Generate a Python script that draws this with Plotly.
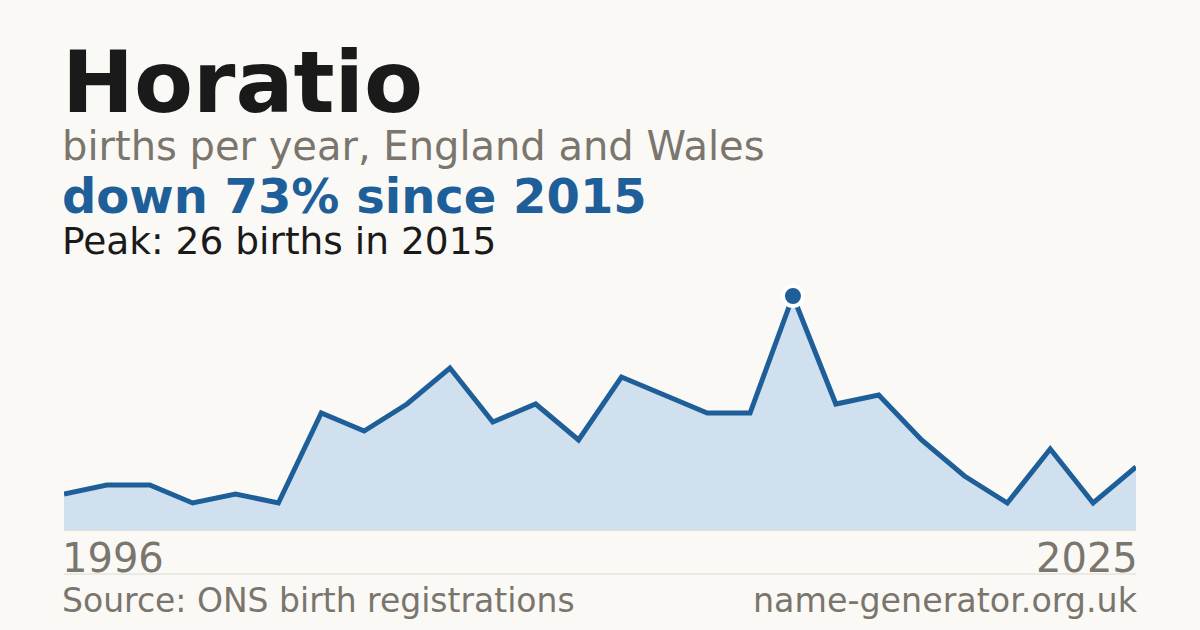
import plotly.graph_objects as go

# births per year (years with fewer than 3 births are not published)
years = [1996, 1997, 1998, 2000, 2001, 2002, 2003, 2005, 2006, 2007, 2008, 2009, 2010,
         2011, 2012, 2013, 2014, 2015, 2016, 2017, 2018, 2020, 2021, 2023, 2024, 2025]
births = [4, 5, 5, 3, 4, 3, 13, 11, 14, 18, 12, 14, 10,
          17, 15, 13, 13, 26, 14, 15, 10, 6, 3, 9, 3, 7]

name = "Horatio"
subtitle = "births per year, England and Wales"
source = "Source: ONS birth registrations"
site = "name-generator.org.uk"

BG = "#faf9f5"
BLUE = "#1f5f99"
GREY = "#7a756d"
DARK = "#1a1a1a"
FONT = "DejaVu Sans"

W, H = 1200, 630

peak = max(births)
peak_i = births.index(peak)
peak_year = years[peak_i]
change = round((births[-1] - peak) / peak * 100)
headline = f"down {abs(change)}% since {peak_year}" if change < 0 else f"up {change}% since {peak_year}"

idx = list(range(len(years)))

fig = go.Figure()
fig.add_trace(go.Scatter(
    x=idx, y=births, mode="lines", fill="tozeroy",
    fillcolor="#d0e0ef", line=dict(color=BLUE, width=5),
    hoverinfo="skip"))
fig.add_trace(go.Scatter(
    x=[peak_i], y=[peak], mode="markers",
    marker=dict(size=20, color=BLUE, line=dict(color="white", width=4)),
    hoverinfo="skip"))


def px(y):
    # pixel from top -> paper fraction
    return 1 - y / H


def txt(text, x, y, size, color, bold=False, anchor="left"):
    fig.add_annotation(
        text=f"<b>{text}</b>" if bold else text,
        x=x / W, y=px(y), xref="paper", yref="paper",
        xanchor=anchor, yanchor="bottom", showarrow=False, borderpad=0,
        font=dict(family=FONT, size=size, color=color))


txt(name, 61, 133, 86, DARK, bold=True)
txt(subtitle, 61, 170, 40, GREY)
txt(headline, 61, 225, 48, BLUE, bold=True)
txt(f"Peak: {peak} births in {peak_year}", 61, 264, 37.5, DARK)
txt(str(years[0]), 61, 582, 40, GREY)
txt(str(years[-1]), 1139, 582, 40, GREY, anchor="right")
txt(source, 61, 621, 33, GREY)
txt(site, 1139, 621, 33.3, GREY, anchor="right")

fig.add_shape(type="line", xref="paper", yref="paper",
              x0=64 / W, x1=1136 / W, y0=px(574), y1=px(574),
              line=dict(color="#dedad2", width=1))

fig.update_layout(
    width=W, height=H,
    paper_bgcolor=BG, plot_bgcolor=BG,
    margin=dict(l=0, r=0, t=0, b=0),
    showlegend=False,
    xaxis=dict(domain=[64 / W, 1136 / W], range=[0, len(years) - 1],
               showgrid=False, zeroline=False, showticklabels=False,
               showline=True, linecolor="#e4dfd6", linewidth=1),
    yaxis=dict(domain=[px(530), px(280)], range=[0, peak * 250 / 234],
               showgrid=False, zeroline=False, showticklabels=False),
)

fig.write_html("out.html", config={"displayModeBar": False})

# drop the browser's default page margin so the figure sits at 0,0
with open("out.html", encoding="utf-8") as f:
    page = f.read()
page = page.replace("<body>", '<body style="margin:0">', 1)
with open("out.html", "w", encoding="utf-8") as f:
    f.write(page)
